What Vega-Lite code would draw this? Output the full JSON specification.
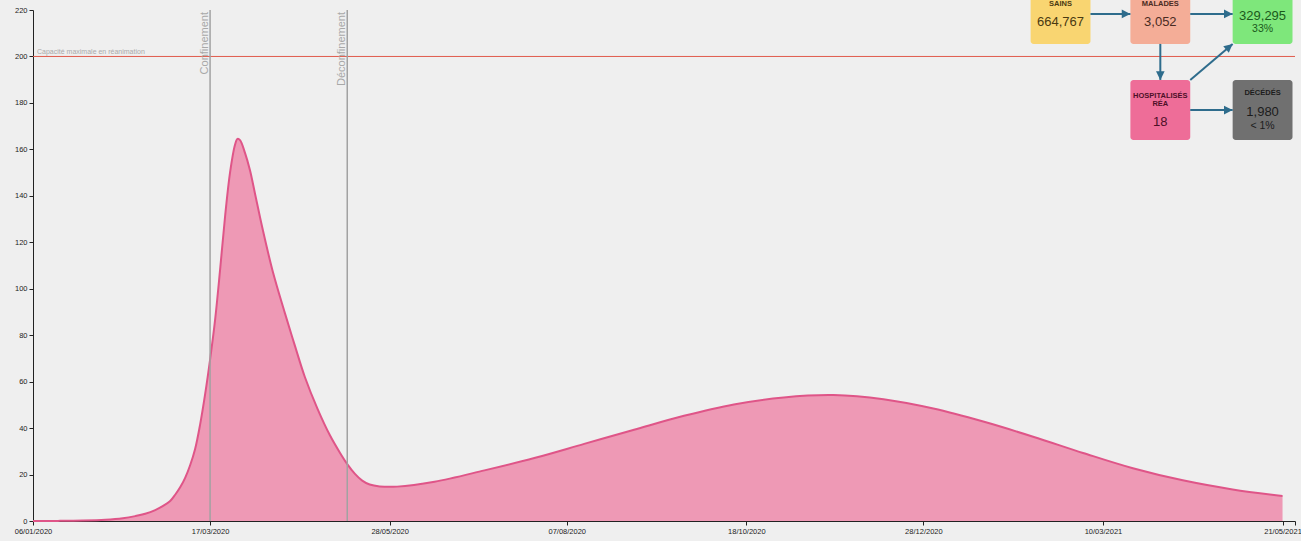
{
  "$schema": "https://vega.github.io/schema/vega-lite/v6.json",
  "width": 1262,
  "height": 511,
  "autosize": {"type": "none"},
  "padding": {"left": 33, "top": 10, "right": 6, "bottom": 20},
  "background": "#efefef",
  "config": {
    "view": {"stroke": null},
    "font": "Liberation Sans",
    "axis": {"grid": false, "domainColor": "#222222", "tickColor": "#222222", "labelColor": "#222222", "labelFont": "Liberation Sans", "labelFontSize": 7.5, "tickSize": 4, "labelPadding": 2, "title": null, "zindex": 1}
  },
  "datasets": {
    "curve": [
      {"date": "2020-01-06", "value": 0},
      {"date": "2020-01-16", "value": 0.05},
      {"date": "2020-01-26", "value": 0.2},
      {"date": "2020-02-04", "value": 0.55},
      {"date": "2020-02-11", "value": 1.2},
      {"date": "2020-02-16", "value": 2.1},
      {"date": "2020-02-20", "value": 3.1},
      {"date": "2020-02-24", "value": 4.7},
      {"date": "2020-02-27", "value": 6.4},
      {"date": "2020-03-01", "value": 8.6},
      {"date": "2020-03-03", "value": 11.3},
      {"date": "2020-03-05", "value": 14.5},
      {"date": "2020-03-07", "value": 18.6},
      {"date": "2020-03-09", "value": 24},
      {"date": "2020-03-11", "value": 31},
      {"date": "2020-03-13", "value": 41.5},
      {"date": "2020-03-15", "value": 54.5},
      {"date": "2020-03-17", "value": 69.5},
      {"date": "2020-03-19", "value": 86.5},
      {"date": "2020-03-21", "value": 108},
      {"date": "2020-03-23", "value": 131},
      {"date": "2020-03-25", "value": 150},
      {"date": "2020-03-27", "value": 162},
      {"date": "2020-03-28", "value": 164.5},
      {"date": "2020-03-29", "value": 164},
      {"date": "2020-03-31", "value": 158.5},
      {"date": "2020-04-02", "value": 151},
      {"date": "2020-04-04", "value": 141},
      {"date": "2020-04-07", "value": 126},
      {"date": "2020-04-11", "value": 108},
      {"date": "2020-04-16", "value": 89.5},
      {"date": "2020-04-20", "value": 75.5},
      {"date": "2020-04-24", "value": 62},
      {"date": "2020-04-29", "value": 48.5},
      {"date": "2020-05-04", "value": 37},
      {"date": "2020-05-08", "value": 29.5},
      {"date": "2020-05-11", "value": 24.5},
      {"date": "2020-05-14", "value": 20.4},
      {"date": "2020-05-17", "value": 17.4},
      {"date": "2020-05-20", "value": 15.7},
      {"date": "2020-05-24", "value": 14.9},
      {"date": "2020-05-31", "value": 14.8},
      {"date": "2020-06-15", "value": 16.9},
      {"date": "2020-07-05", "value": 21.8},
      {"date": "2020-07-25", "value": 27.1},
      {"date": "2020-08-14", "value": 33.2},
      {"date": "2020-09-03", "value": 39.3},
      {"date": "2020-09-23", "value": 45.3},
      {"date": "2020-10-13", "value": 50.2},
      {"date": "2020-11-02", "value": 53.2},
      {"date": "2020-11-22", "value": 54.2},
      {"date": "2020-12-12", "value": 52.4},
      {"date": "2021-01-01", "value": 48.4},
      {"date": "2021-01-21", "value": 42.8},
      {"date": "2021-02-10", "value": 36.3},
      {"date": "2021-03-02", "value": 29.3},
      {"date": "2021-03-22", "value": 22.7},
      {"date": "2021-04-11", "value": 17.5},
      {"date": "2021-05-01", "value": 13.6},
      {"date": "2021-05-21", "value": 10.8}
    ],
    "capacity": [
      {"label": "Capacité maximale en réanimation", "date": "2020-01-06", "value": 200}
    ],
    "events": [
      {"date": "2020-03-17", "label": "Confinement"},
      {"date": "2020-05-11", "label": "Déconfinement"}
    ],
    "boxes": [
      {"box": "SAINS", "start": "2021-02-09", "end": "2021-03-05", "low": 205.4, "high": 231.2},
      {"box": "MALADES", "start": "2021-03-21", "end": "2021-04-14", "low": 205.4, "high": 231.2},
      {"box": "GUÉRIS", "start": "2021-05-01", "end": "2021-05-25", "low": 205.4, "high": 231.2},
      {"box": "HOSPITALISÉS RÉA", "start": "2021-03-21", "end": "2021-04-14", "low": 164.0, "high": 189.9},
      {"box": "DÉCÉDÉS", "start": "2021-05-01", "end": "2021-05-25", "low": 164.0, "high": 189.9}
    ],
    "boxtext": [
      {"box": "SAINS", "role": "label", "text": "SAINS", "date": "2021-02-21", "value": 222.6},
      {"box": "SAINS", "role": "value", "text": "664,767", "date": "2021-02-21", "value": 215.0},
      {"box": "MALADES", "role": "label", "text": "MALADES", "date": "2021-04-02", "value": 222.6},
      {"box": "MALADES", "role": "value", "text": "3,052", "date": "2021-04-02", "value": 215.0},
      {"box": "GUÉRIS", "role": "value", "text": "329,295", "date": "2021-05-13", "value": 217.6},
      {"box": "GUÉRIS", "role": "share", "text": "33%", "date": "2021-05-13", "value": 211.8},
      {"box": "HOSPITALISÉS RÉA", "role": "label", "text": "HOSPITALISÉS", "date": "2021-04-02", "value": 183.1},
      {"box": "HOSPITALISÉS RÉA", "role": "label", "text": "RÉA", "date": "2021-04-02", "value": 179.4},
      {"box": "HOSPITALISÉS RÉA", "role": "value", "text": "18", "date": "2021-04-02", "value": 171.7},
      {"box": "DÉCÉDÉS", "role": "label", "text": "DÉCÉDÉS", "date": "2021-05-13", "value": 184.1},
      {"box": "DÉCÉDÉS", "role": "value", "text": "1,980", "date": "2021-05-13", "value": 176.2},
      {"box": "DÉCÉDÉS", "role": "share", "text": "< 1%", "date": "2021-05-13", "value": 170.2}
    ],
    "arrows": [
      {"from": "SAINS", "to": "MALADES", "x1": "2021-03-05", "x2": "2021-03-21", "y1": 218.3, "y2": 218.3, "heading": 0},
      {"from": "MALADES", "to": "GUÉRIS", "x1": "2021-04-14", "x2": "2021-05-01", "y1": 218.3, "y2": 218.3, "heading": 0},
      {"from": "MALADES", "to": "HOSPITALISÉS RÉA", "x1": "2021-04-02", "x2": "2021-04-02", "y1": 205.4, "y2": 189.9, "heading": 90},
      {"from": "HOSPITALISÉS RÉA", "to": "GUÉRIS", "x1": "2021-04-14", "x2": "2021-05-01", "y1": 189.9, "y2": 205.4, "heading": 320},
      {"from": "HOSPITALISÉS RÉA", "to": "DÉCÉDÉS", "x1": "2021-04-14", "x2": "2021-05-01", "y1": 176.9, "y2": 176.9, "heading": 0}
    ]
  },
  "layer": [
    {
      "data": {"name": "curve"},
      "mark": {"type": "area", "interpolate": "catmull-rom", "color": "#ee99b5", "opacity": 1, "line": {"color": "#df5588", "strokeWidth": 2}},
      "encoding": {
        "x": {
          "field": "date", "type": "temporal",
          "scale": {"type": "utc", "domain": [{"year": 2020, "month": 1, "date": 6, "utc": true}, {"year": 2021, "month": 5, "date": 26, "utc": true}]},
          "axis": {
            "values": [
              {"year": 2020, "month": 1, "date": 6, "utc": true},
              {"year": 2020, "month": 3, "date": 17, "utc": true},
              {"year": 2020, "month": 5, "date": 28, "utc": true},
              {"year": 2020, "month": 8, "date": 7, "utc": true},
              {"year": 2020, "month": 10, "date": 18, "utc": true},
              {"year": 2020, "month": 12, "date": 28, "utc": true},
              {"year": 2021, "month": 3, "date": 10, "utc": true},
              {"year": 2021, "month": 5, "date": 21, "utc": true},
              {"year": 2021, "month": 5, "date": 26, "utc": true}
            ],
            "format": "%d/%m/%Y",
            "labelExpr": "datum.value > 1621700000000 ? '' : datum.label",
            "labelFlush": false,
            "labelOverlap": false,
            "labelPadding": 2
          }
        },
        "y": {
          "field": "value", "type": "quantitative",
          "scale": {"domain": [0, 220], "nice": false},
          "axis": {"values": [0, 20, 40, 60, 80, 100, 120, 140, 160, 180, 200, 220], "labelFlush": false}
        }
      }
    },
    {
      "data": {"name": "capacity"},
      "mark": {"type": "rule", "color": "#e05a4c", "strokeWidth": 1},
      "encoding": {"y": {"field": "value", "type": "quantitative"}}
    },
    {
      "data": {"name": "capacity"},
      "mark": {"type": "text", "align": "left", "baseline": "bottom", "dx": 4, "dy": -1, "fontSize": 7, "color": "#aaaaaa"},
      "encoding": {
        "x": {"field": "date", "type": "temporal"},
        "y": {"field": "value", "type": "quantitative"},
        "text": {"field": "label"}
      }
    },
    {
      "data": {"name": "events"},
      "mark": {"type": "rule", "color": "#a2a2a2", "strokeWidth": 1.5},
      "encoding": {"x": {"field": "date", "type": "temporal"}}
    },
    {
      "data": {"name": "events"},
      "mark": {"type": "text", "angle": 270, "align": "right", "baseline": "alphabetic", "dx": -2, "dy": -2.5, "fontSize": 11, "color": "#a8a8a8"},
      "encoding": {
        "x": {"field": "date", "type": "temporal"},
        "y": {"datum": 220, "type": "quantitative"},
        "text": {"field": "label"}
      }
    },
    {
      "data": {"name": "boxes"},
      "mark": {"type": "rect", "cornerRadius": 3},
      "encoding": {
        "x": {"field": "start", "type": "temporal"},
        "x2": {"field": "end"},
        "y": {"field": "low", "type": "quantitative"},
        "y2": {"field": "high"},
        "fill": {"field": "box", "type": "nominal", "legend": null,
          "scale": {"domain": ["SAINS", "MALADES", "GUÉRIS", "HOSPITALISÉS RÉA", "DÉCÉDÉS"], "range": ["#f9d571", "#f4ad97", "#7ee77b", "#ee6d98", "#707070"]}}
      }
    },
    {
      "data": {"name": "arrows"},
      "mark": {"type": "rule", "color": "#2e6c8c", "strokeWidth": 2},
      "encoding": {
        "x": {"field": "x1", "type": "temporal"},
        "x2": {"field": "x2"},
        "y": {"field": "y1", "type": "quantitative"},
        "y2": {"field": "y2"}
      }
    },
    {
      "data": {"name": "arrows"},
      "mark": {"type": "point", "shape": "M0,0L-1,-0.5L-1,0.5Z", "filled": true, "size": 300, "color": "#2e6c8c", "opacity": 1},
      "encoding": {
        "x": {"field": "x2", "type": "temporal"},
        "y": {"field": "y2", "type": "quantitative"},
        "angle": {"field": "heading", "type": "quantitative", "scale": null}
      }
    },
    {
      "data": {"name": "boxtext"},
      "transform": [{"filter": "datum.role === 'label'"}],
      "mark": {"type": "text", "align": "center", "baseline": "middle", "fontSize": 7.5, "fontWeight": "bold"},
      "encoding": {
        "x": {"field": "date", "type": "temporal"},
        "y": {"field": "value", "type": "quantitative"},
        "text": {"field": "text"},
        "color": {"field": "box", "type": "nominal", "legend": null,
          "scale": {"domain": ["SAINS", "MALADES", "GUÉRIS", "HOSPITALISÉS RÉA", "DÉCÉDÉS"], "range": ["#4a3a12", "#4a2b22", "#1b5a1b", "#4d1028", "#1c1c1c"]}}
      }
    },
    {
      "data": {"name": "boxtext"},
      "transform": [{"filter": "datum.role === 'value'"}],
      "mark": {"type": "text", "align": "center", "baseline": "middle", "fontSize": 13},
      "encoding": {
        "x": {"field": "date", "type": "temporal"},
        "y": {"field": "value", "type": "quantitative"},
        "text": {"field": "text"},
        "color": {"field": "box", "type": "nominal", "legend": null}
      }
    },
    {
      "data": {"name": "boxtext"},
      "transform": [{"filter": "datum.role === 'share'"}],
      "mark": {"type": "text", "align": "center", "baseline": "middle", "fontSize": 10.5},
      "encoding": {
        "x": {"field": "date", "type": "temporal"},
        "y": {"field": "value", "type": "quantitative"},
        "text": {"field": "text"},
        "color": {"field": "box", "type": "nominal", "legend": null}
      }
    }
  ]
}
